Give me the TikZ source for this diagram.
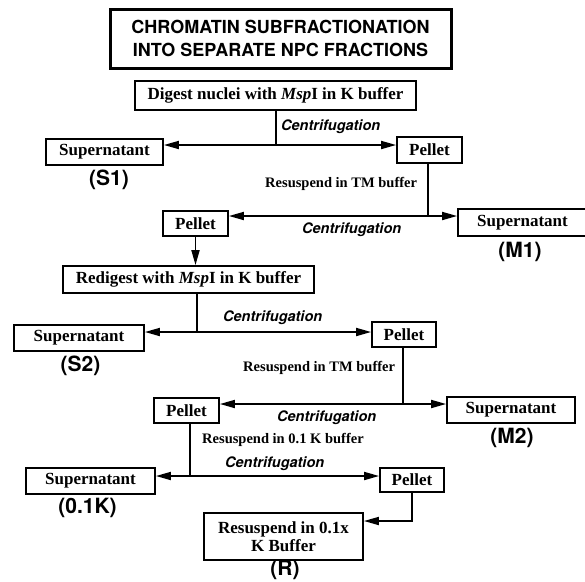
\documentclass[tikz,border=0pt]{standalone}
\usepackage{fontspec}
\setmainfont{Liberation Serif}
\newfontfamily\hvfont{TeX Gyre Heros}
\usetikzlibrary{arrows.meta}
\tikzset{
  box/.style={draw, line width=1.8pt, inner sep=0pt, align=center,
    font=\fontsize{17}{18}\selectfont\bfseries},
  titlebox/.style={draw, line width=3pt, inner sep=0pt, align=center,
    font=\hvfont\fontsize{18}{23}\selectfont\bfseries},
  tag/.style={inner sep=0pt, font=\hvfont\fontsize{21}{22}\selectfont\bfseries},
  centlbl/.style={inner sep=0pt, anchor=base west,
    font=\hvfont\fontsize{14.5}{15}\selectfont\bfseries\itshape},
  reslbl/.style={inner sep=0pt, anchor=base west,
    font=\fontsize{14.5}{15}\selectfont\bfseries},
  conn/.style={line width=1.8pt},
  twoway/.style={line width=1.8pt, {Triangle[length=15pt,width=8pt]}-{Triangle[length=15pt,width=8pt]}},
  oneway/.style={line width=1.8pt, -{Triangle[length=15pt,width=8pt]}}
}
\begin{document}
\begin{tikzpicture}[x=1pt,y=-1pt]
\useasboundingbox (0,0) rectangle (585,581);

% boxes
\node[titlebox, minimum width=341pt, minimum height=59pt] (title) at (280.5,38.5)
  {CHROMATIN SUBFRACTIONATION\\INTO SEPARATE NPC FRACTIONS};
\node[box, minimum width=281pt, minimum height=29pt] (digest) at (275.5,95.5)
  {Digest nuclei with \textit{Msp}I in K buffer};
\node[box, minimum width=117pt, minimum height=26pt] (S1) at (104.5,152) {Supernatant};
\node[box, minimum width=65pt, minimum height=26pt] (P1) at (429.5,150) {Pellet};
\node[box, minimum width=65pt, minimum height=25pt] (P2) at (195.5,223.5) {Pellet};
\node[box, minimum width=129pt, minimum height=27pt] (M1) at (522.5,222.5) {Supernatant};
\node[box, minimum width=251pt, minimum height=27pt] (redigest) at (188.5,279.5)
  {Redigest with \textit{Msp}I in K buffer};
\node[box, minimum width=130pt, minimum height=26pt] (S2) at (79,338) {Supernatant};
\node[box, minimum width=64pt, minimum height=25pt] (P3) at (404,334.5) {Pellet};
\node[box, minimum width=65pt, minimum height=25pt] (P4) at (186.5,410.5) {Pellet};
\node[box, minimum width=128pt, minimum height=26pt] (M2) at (511,410) {Supernatant};
\node[box, minimum width=129pt, minimum height=26pt] (S3) at (90.5,481) {Supernatant};
\node[box, minimum width=64pt, minimum height=24pt] (P5) at (412,480) {Pellet};
\node[box, minimum width=159pt, minimum height=47pt] (R) at (283.5,536.5)
  {Resuspend in 0.1x\\K Buffer};

% fraction tags
\node[tag] (tS1) at (109,180) {(S1)};
\node[tag] (tM1) at (520,252) {(M1)};
\node[tag] (tS2) at (80.5,366) {(S2)};
\node[tag] (tM2) at (512,438) {(M2)};
\node[tag] (tK) at (87.5,508) {(0.1K)};
\node[tag] (tR) at (285,570) {(R)};

% step labels
\node[centlbl] (c1) at (281,130) {Centrifugation};
\node[centlbl] (c2) at (302,233) {Centrifugation};
\node[centlbl] (c3) at (223,321) {Centrifugation};
\node[centlbl] (c4) at (277,421) {Centrifugation};
\node[centlbl] (c5) at (225,467) {Centrifugation};
\node[reslbl] (r1) at (265,187) {Resuspend in TM buffer};
\node[reslbl] (r2) at (243,371) {Resuspend in TM buffer};
\node[reslbl] (r3) at (202,443) {Resuspend in 0.1 K buffer};

% junctions
\coordinate (j1) at (276,145);
\coordinate (j2) at (428,216);
\coordinate (j3) at (197,332);
\coordinate (j4) at (403,404);
\coordinate (j5) at (190,476);
\coordinate (j6) at (412,521);

% connectors
\draw[conn] (j1 |- digest.south) -- (j1);
\draw[twoway] (S1.east |- j1) -- (P1.west |- j1);

\draw[conn] (j2 |- P1.south) -- (j2);
\draw[twoway] (P2.east |- j2) -- (M1.west |- j2);

\draw[oneway] (P2.south) -- (P2.south |- redigest.north);

\draw[conn] (j3 |- redigest.south) -- (j3);
\draw[twoway] (S2.east |- j3) -- (P3.west |- j3);

\draw[conn] (j4 |- P3.south) -- (j4);
\draw[twoway] (P4.east |- j4) -- (M2.west |- j4);

\draw[conn] (j5 |- P4.south) -- (j5);
\draw[twoway] (S3.east |- j5) -- (P5.west |- j5);

\draw[oneway, line join=miter] (j6 |- P5.south) -- (j6) -- (R.east |- j6);
\end{tikzpicture}
\end{document}
